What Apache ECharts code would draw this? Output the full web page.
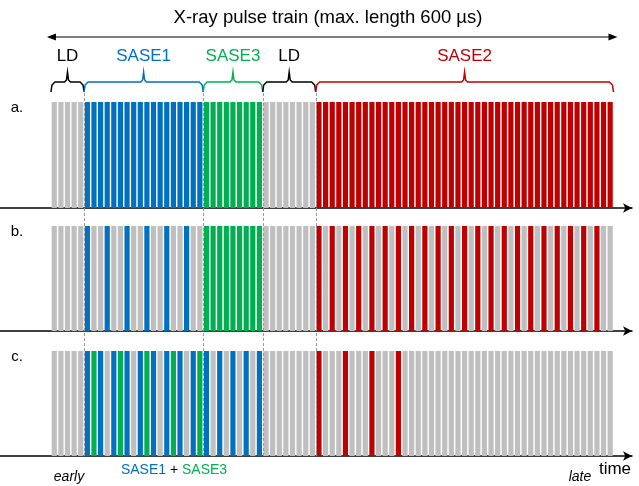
<!DOCTYPE html>
<html>
<head>
<meta charset="utf-8">
<script src="https://cdn.jsdelivr.net/npm/echarts@6/dist/echarts.min.js"></script>
<style>
  html, body { margin: 0; padding: 0; background: #fff; }
  #main { width: 639px; height: 486px; }
</style>
</head>
<body>
<div id="main"></div>
<script>
// segments of the pulse train and how many pulses each one has
const segNames = ['LD', 'SASE1', 'SASE3', 'LD', 'SASE2'];
const segPulses = [5, 18, 9, 8, 45];
// destination of every pulse, segment by segment
// g = not delivered (grey), b = SASE1, e = SASE3, r = SASE2
const rowA = ['ggggg', 'bbbbbb bbbbbb bbbbbb', 'eeeeeeeee', 'gggggggg',
  'rrrrr rrrrr rrrrr rrrrr rrrrr rrrrr rrrrr rrrrr rrrrr'];
const rowB = ['ggggg', 'bgg bgg bgg bgg bgg bgg', 'eeeeeeeee', 'gggggggg',
  'rgrgr grgrg rgrgr grgrg rgrgr grgrg rgrgr grgrg rgrgg'];
const rowC = ['ggggg', 'bebg bebg bebg bebg be', 'bgbgbgbgb', 'gggggggg',
  'rggg rggg rggg rggg ggggg ggggg ggggg ggggg ggggg gggg'];
const rowLabels = ['a.', 'b.', 'c.'];

const colorOf = { g: '#bfbfbf', b: '#0070c0', e: '#00b050', r: '#c00000' };
const segColors = ['#000000', '#0070c0', '#00b050', '#000000', '#c00000'];
const FONT = '"Liberation Sans", Arial, sans-serif';

const rows = [rowA, rowB, rowC];
const gridTops = [102, 226, 351];
const gridHeights = [106, 105, 105];

const chart = echarts.init(document.getElementById('main'));

const grids = [], xAxes = [], yAxes = [], series = [];
rows.forEach(function (row, r) {
  grids.push({ left: 0, right: 7, top: gridTops[r], height: gridHeights[r] });
  xAxes.push({
    type: 'value', gridIndex: r, min: -8.2, max: 87.3,
    axisLine: {
      show: true, onZero: false,
      lineStyle: { color: '#000', width: 1.5 },
      symbol: ['none', 'arrow'], symbolSize: [7, 9]
    },
    axisTick: { show: false }, axisLabel: { show: false }, splitLine: { show: false }
  });
  yAxes.push({ type: 'value', gridIndex: r, min: 0, max: 1, show: false });
  const pulses = row.join('').replace(/ /g, '').split('');
  series.push({
    type: 'bar', xAxisIndex: r, yAxisIndex: r, barWidth: 5.2, silent: true,
    data: pulses.map(function (c, i) {
      return { value: [i, 1], itemStyle: { color: colorOf[c] } };
    })
  });
});

chart.setOption({
  animation: false,
  grid: grids,
  xAxis: xAxes,
  yAxis: yAxes,
  series: series
});

// annotations placed with the axis scale
const px = function (v) { return chart.convertToPixel({ xAxisIndex: 0 }, v); };
const total = segPulses.reduce(function (a, b) { return a + b; }, 0);
const cum = [0];
segPulses.forEach(function (n) { cum.push(cum[cum.length - 1] + n); });

const g = [];
// title and double arrow
const ax0 = px(-0.5), ax1 = px(total - 0.5);
g.push({ type: 'text', x: 328, y: 18, z: 100,
  style: { text: 'X-ray pulse train (max. length 600 µs)', fontSize: 18.5, fontFamily: FONT,
    fill: '#000', align: 'center', verticalAlign: 'middle' } });
g.push({ type: 'line', z: 100, shape: { x1: ax0 + 4, y1: 37, x2: ax1 - 4, y2: 37 },
  style: { stroke: '#000', lineWidth: 1.2 } });
g.push({ type: 'polygon', z: 100, shape: { points: [[ax0 - 4, 37], [ax0 + 5, 33.5], [ax0 + 5, 40.5]] },
  style: { fill: '#000' } });
g.push({ type: 'polygon', z: 100, shape: { points: [[ax1 + 4, 37], [ax1 - 5, 33.5], [ax1 - 5, 40.5]] },
  style: { fill: '#000' } });

// braces and segment names
const by = 82;
segNames.forEach(function (name, s) {
  const x0 = px(cum[s] - 0.5), x1 = px(cum[s + 1] - 0.5), m = (x0 + x1) / 2;
  g.push({ type: 'polyline', z: 100,
    shape: { points: [[x0, by + 10], [x0 + 1, by + 3], [x0 + 4, by], [m - 3, by], [m - 1, by - 2],
      [m, by - 10], [m + 1, by - 2], [m + 3, by], [x1 - 4, by], [x1 - 1, by + 3], [x1, by + 10]] },
    style: { stroke: segColors[s], lineWidth: 1.5, fill: null } });
  g.push({ type: 'text', x: m, y: 56, z: 100,
    style: { text: name, fontSize: 17, fontFamily: FONT, fill: segColors[s],
      align: 'center', verticalAlign: 'middle' } });
});

// dashed segment boundaries through all rows
for (let s = 1; s < segPulses.length; s++) {
  const x = Math.round(px(cum[s] - 0.5)) + 0.5;
  g.push({ type: 'line', z: 100, shape: { x1: x, y1: 93, x2: x, y2: 458 },
    style: { stroke: '#9a9a9a', lineWidth: 1, lineDash: [3, 2] } });
}

// row letters
rowLabels.forEach(function (t, r) {
  g.push({ type: 'text', x: 17, y: gridTops[r] + 6, z: 100,
    style: { text: t, fontSize: 15, fontFamily: FONT, fill: '#000',
      align: 'center', verticalAlign: 'middle' } });
});

// bottom texts
g.push({ type: 'text', x: 69, y: 477, z: 100,
  style: { text: 'early', fontSize: 14, fontStyle: 'italic', fontFamily: FONT, fill: '#000',
    align: 'center', verticalAlign: 'middle' } });
g.push({ type: 'text', x: 174, y: 470, z: 100,
  style: { text: '{b|SASE1} {k|+} {e|SASE3}', fontSize: 14, fontFamily: FONT,
    align: 'center', verticalAlign: 'middle',
    rich: {
      b: { fill: '#0070c0', fontSize: 14, fontFamily: FONT },
      k: { fill: '#000', fontSize: 14, fontFamily: FONT },
      e: { fill: '#00b050', fontSize: 14, fontFamily: FONT }
    } } });
g.push({ type: 'text', x: 580, y: 477, z: 100,
  style: { text: 'late', fontSize: 14, fontStyle: 'italic', fontFamily: FONT, fill: '#000',
    align: 'center', verticalAlign: 'middle' } });
g.push({ type: 'text', x: 615, y: 469, z: 100,
  style: { text: 'time', fontSize: 17, fontFamily: FONT, fill: '#000',
    align: 'center', verticalAlign: 'middle' } });

chart.setOption({ graphic: g });
</script>
</body>
</html>
